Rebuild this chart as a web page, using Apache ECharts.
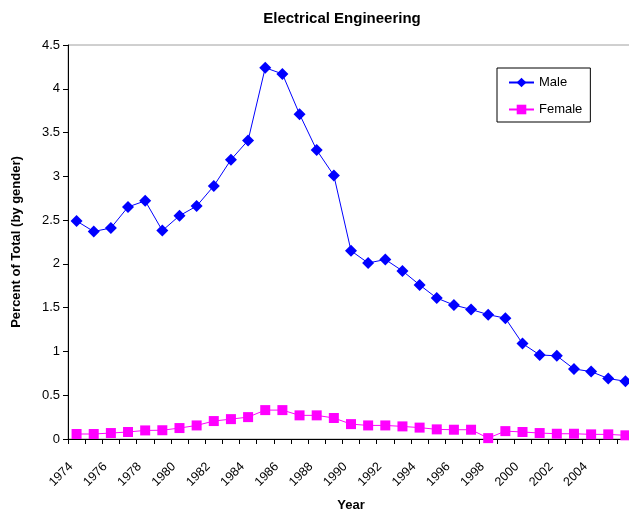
<!DOCTYPE html>
<html>
<head>
<meta charset="utf-8">
<script src="https://cdn.jsdelivr.net/npm/echarts@6/dist/echarts.min.js"></script>
<style>html,body{margin:0;padding:0;background:#fff;overflow:hidden}#c{width:634px;height:517px}</style>
</head>
<body>
<div id="c"></div>
<script>
var years = [];
for (var y = 1974; y <= 2006; y++) years.push(String(y));
var male = [2.49,2.37,2.41,2.65,2.72,2.38,2.55,2.66,2.89,3.19,3.41,4.24,4.17,3.71,3.30,3.01,2.15,2.01,2.05,1.92,1.76,1.61,1.53,1.48,1.42,1.38,1.09,0.96,0.95,0.80,0.77,0.69,0.66];
var female = [0.057,0.057,0.068,0.08,0.098,0.10,0.125,0.155,0.205,0.227,0.25,0.33,0.33,0.27,0.27,0.24,0.17,0.155,0.155,0.144,0.13,0.11,0.106,0.106,0.01,0.09,0.08,0.068,0.06,0.06,0.053,0.053,0.042];
var yTicks = {min: 0, max: 4.5, interval: 0.5};

var FF = 'Liberation Sans, Arial, sans-serif';
var chart = echarts.init(document.getElementById('c'));
chart.setOption({
  animation: false,
  textStyle: {fontFamily: FF},
  title: {
    text: 'Electrical Engineering',
    left: 337, top: 6, textAlign: 'center',
    textStyle: {fontSize: 15, fontWeight: 'bold', color: '#000', fontFamily: FF}
  },
  grid: {left: 68, top: 45, bottom: 78, right: 0, show: true, borderColor: '#a0a0a0', borderWidth: 1,
         containLabel: false, outerBoundsMode: 'none'},
  legend: {
    orient: 'vertical', left: 497, top: 68,
    padding: [8, 8, 6, 11], itemGap: 14,
    itemWidth: 25, itemHeight: 12,
    borderColor: '#000', borderWidth: 1, backgroundColor: '#fff', borderRadius: 0,
    textStyle: {fontSize: 13, color: '#000', fontFamily: FF},
    data: ['Male', 'Female']
  },
  xAxis: {
    type: 'category', data: years, boundaryGap: true,
    name: 'Year', nameLocation: 'middle', nameGap: 60,
    nameTextStyle: {fontSize: 13, fontWeight: 'bold', color: '#000'},
    axisLine: {lineStyle: {color: '#000', width: 1}},
    axisTick: {show: true, interval: 0, alignWithLabel: false, length: 5, lineStyle: {color: '#000'}},
    axisLabel: {
      interval: function (i) { return i % 2 === 0 && i < years.length - 1; },
      rotate: 45, fontSize: 12.5, color: '#000', margin: 20, padding: [0, 8, 0, 0]
    },
    splitLine: {show: false}
  },
  yAxis: {
    type: 'value', min: yTicks.min, max: yTicks.max, interval: yTicks.interval,
    name: 'Percent of Total (by gender)', nameLocation: 'middle', nameGap: 45,
    nameTextStyle: {fontSize: 13, fontWeight: 'bold', color: '#000'},
    axisLine: {show: true, lineStyle: {color: '#000', width: 1}},
    axisTick: {show: true, length: 5, lineStyle: {color: '#000'}},
    axisLabel: {fontSize: 13, color: '#000', margin: 8},
    splitLine: {show: false}
  },
  series: [
    {
      name: 'Male', type: 'line', data: male,
      symbol: 'diamond', symbolSize: 12, showAllSymbol: true,
      lineStyle: {color: '#0000ff', width: 1},
      itemStyle: {color: '#0000ff'}
    },
    {
      name: 'Female', type: 'line', data: female,
      symbol: 'rect', symbolSize: 10, showAllSymbol: true,
      lineStyle: {color: '#ff00ff', width: 1},
      itemStyle: {color: '#ff00ff'}
    }
  ]
});
</script>
</body>
</html>
